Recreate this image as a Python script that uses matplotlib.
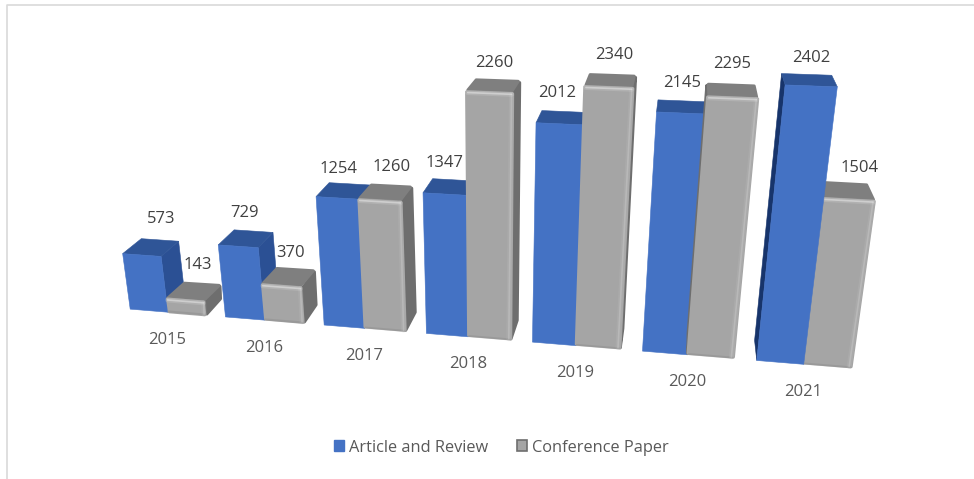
import numpy as np
import matplotlib
matplotlib.use("Agg")
import matplotlib.pyplot as plt
from matplotlib.patches import Polygon, Patch

years = ["2015", "2016", "2017", "2018", "2019", "2020", "2021"]
article = [573, 729, 1254, 1347, 2012, 2145, 2402]
conference = [143, 370, 1260, 2260, 2340, 2295, 1504]

# perspective camera: (bar position, value / 1000, depth, 1) -> pixels
cam = np.array([
    [36.5597302, -17.5632962, 22.8963909, 130.2042549],
    [0.9418443, -105.9205102, -6.8071932, 309.1250152],
    [-0.006885, -0.0358495, 0.0329152, 1.0],
])


def project(x, v, z=0):
    p = cam @ np.array([x, v / 1000, z, 1.0])
    return p[0] / p[2], p[1] / p[2]


plt.rcParams["font.family"] = "Open Sans"
fig = plt.figure(figsize=(9.74, 4.79), dpi=100)
ax = fig.add_axes([0, 0, 1, 1])
ax.set_xlim(0, 974)
ax.set_ylim(479, 0)
ax.axis("off")

ax.plot([7, 7, 974], [479, 4.5, 4.5], color="#d9d9d9", lw=1.2)

blue = dict(front="#4472c4", top="#2f5597", right="#2b5094", left="#17346b")
grey = dict(front="#a5a5a5", top="#7f7f7f", right="#6e6e6e", left="#6e6e6e")
center_x = 13.5


def area(pts):
    a = 0
    for i in range(len(pts)):
        x0, y0 = pts[i]
        x1, y1 = pts[(i + 1) % len(pts)]
        a += x0 * y1 - x1 * y0
    return a


def shrink(pts, px):
    # pull corners in so a thick round edge gives rounded corners at the same size
    pts = np.array(pts)
    mid = pts.mean(axis=0)
    out = []
    for p in pts:
        d = mid - p
        n = np.hypot(*d)
        out.append(p + d / max(n, 1e-6) * min(px, n * 0.4))
    return out


def soft_line(p0, p1, color, z, width=1.2):
    ax.plot(*zip(p0, p1), color=color, lw=width * 3, alpha=0.2, zorder=z, solid_capstyle="round")
    ax.plot(*zip(p0, p1), color=color, lw=width, alpha=0.6, zorder=z, solid_capstyle="round")


def draw_bar(x0, value, colors, bevel, z):
    x1 = x0 + 1
    faces = [
        ("left", [(x0, 0, 1), (x0, 0, 0), (x0, value, 0), (x0, value, 1)]),
        ("right", [(x1, 0, 0), (x1, 0, 1), (x1, value, 1), (x1, value, 0)]),
        ("top", [(x0, value, 0), (x1, value, 0), (x1, value, 1), (x0, value, 1)]),
        ("front", [(x0, 0, 0), (x1, 0, 0), (x1, value, 0), (x0, value, 0)]),
    ]
    for name, corners in faces:
        pts = [project(*c) for c in corners]
        if area(pts) < 0:
            if bevel:
                ax.add_patch(Polygon(shrink(pts, 1.5), closed=True, fc=colors[name], ec=colors[name], lw=2.2,
                                     joinstyle="round", zorder=z))
            else:
                ax.add_patch(Polygon(pts, closed=True, fc=colors[name], ec=colors[name], lw=0.4, zorder=z))
    if bevel:
        # soft highlights along the bevelled edges of the front face
        d = min(18, value * 0.1)
        tl = project(x0 + 0.03, value - d, 0)
        tr = project(x1 - 0.03, value - d, 0)
        br = project(x1 - 0.05, d * 0.8, 0)
        ax.plot(*zip(project(x0 + 0.02, 8, 0), project(x1 - 0.02, 8, 0)), color="#8c8c8c", lw=1.5, alpha=0.45,
                zorder=z, solid_capstyle="round")
        soft_line(tr, br, "#c2c2c2", z)
        soft_line(tl, tr, "#e2e2e2", z)


bars = []
for i in range(len(years)):
    bars.append((2.5 * i, article[i], blue, False))
    bars.append((2.5 * i + 1, conference[i], grey, True))
bars.sort(key=lambda b: -abs(b[0] + 0.5 - center_x))
for n, (x0, value, colors, bevel) in enumerate(bars):
    draw_bar(x0, value, colors, bevel, 3 + n)

art_dx = [1, -9, -11, -9, -7, 0, 5]
art_dy = [-21, -18, -15, -17, -19, -18, -16]
conf_dx = [-4, -5, 1, -3, 2, 1, 16]
conf_dy = [-19, -16, -19, -17, -20, -21, -15]
for i in range(len(years)):
    px, py = project(2.5 * i + 0.5, article[i], 1)
    ax.text(px + art_dx[i], py + art_dy[i], str(article[i]), ha="center", va="center",
            fontsize=12, color="#404040", zorder=50)
    px, py = project(2.5 * i + 1.5, conference[i], 1)
    ax.text(px + conf_dx[i], py + conf_dy[i], str(conference[i]), ha="center", va="center",
            fontsize=12, color="#404040", zorder=50)
    px, py = project(2.5 * i + 1, 0, 0)
    ax.text(px - 0.5, py + 27.5, years[i], ha="center", va="center", fontsize=12, color="#595959", zorder=50)

handles = [Patch(fc="#4472c4", ec="#4472c4", label="Article and Review"),
           Patch(fc="#a5a5a5", ec="#6e6e6e", lw=1.2, label="Conference Paper")]
ax.legend(handles=handles, loc="center", bbox_to_anchor=(501.5 / 974, 1 - 447.5 / 479), ncol=2, frameon=False,
          fontsize=11.8, labelcolor="#595959", handlelength=0.62, handleheight=0.62, handletextpad=0.3,
          columnspacing=1.75, borderpad=0, borderaxespad=0)

fig.savefig("out.png", dpi=100)
